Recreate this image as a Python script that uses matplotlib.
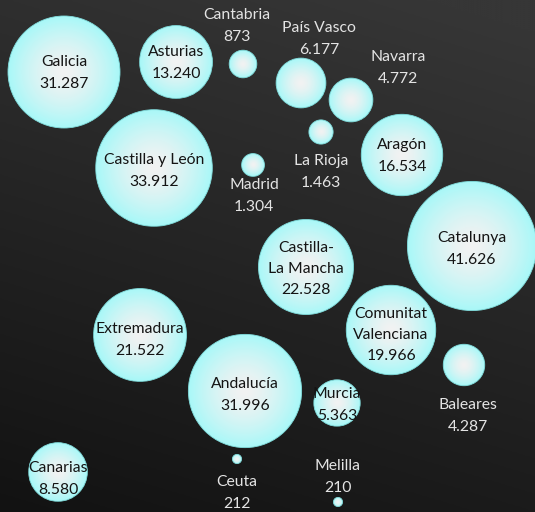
import numpy as np
import matplotlib
matplotlib.use("Agg")
import matplotlib.pyplot as plt
from matplotlib.patches import Circle

plt.rcParams['font.family'] = ['Lato', 'DejaVu Sans']

# ---- data ----
regions = ["Galicia", "Asturias", "Cantabria", "País Vasco", "Navarra", "La Rioja",
           "Aragón", "Castilla y León", "Madrid", "Catalunya", "Castilla-\nLa Mancha",
           "Comunitat\nValenciana", "Baleares", "Murcia", "Andalucía", "Extremadura",
           "Canarias", "Ceuta", "Melilla"]
labels = ["31.287", "13.240", "873", "6.177", "4.772", "1.463", "16.534", "33.912",
          "1.304", "41.626", "22.528", "19.966", "4.287", "5.363", "31.996", "21.522",
          "8.580", "212", "210"]
bubble_size = [31287, 13240, 1900, 6177, 4772, 1463, 16534, 33912, 1304, 41626,
               22528, 19966, 4287, 5363, 31996, 21522, 8580, 212, 210]
x = [64, 176, 243, 301, 351, 321, 402, 154, 253, 472, 306, 391, 464, 337, 245, 140, 58, 237, 338]
y = [72, 62, 64, 83, 100, 132, 155, 168, 165, 246, 267, 330, 365, 403, 391, 335, 472, 459, 502]

# label placement (layout): outside labels and inside labels
outside = {"Cantabria": (237, 26), "País Vasco": (319, 39), "Navarra": (398, 68),
           "La Rioja": (321, 172), "Madrid": (254, 196), "Baleares": (468, 416),
           "Ceuta": (237, 493), "Melilla": (338, 477)}
inside_pos = {"Galicia": (64, 73), "Asturias": (176, 63), "Aragón": (402, 156),
              "Castilla y León": (154, 171), "Catalunya": (472, 249),
              "Castilla-\nLa Mancha": (306, 269), "Comunitat\nValenciana": (391, 335),
              "Murcia": (337, 405), "Andalucía": (245, 395), "Extremadura": (140, 340),
              "Canarias": (58, 479)}

W, H = 535, 512
fig = plt.figure(figsize=(W / 100, H / 100), dpi=100)
ax = fig.add_axes([0, 0, 1, 1])
ax.set_xlim(0, W)
ax.set_ylim(H, 0)
ax.axis('off')

# background gradient
yy, xx = np.mgrid[0:1:256j, 0:1:256j]
t = np.clip(0.8 * yy + 0.25 * (1 - xx) - 0.05, 0, 1)
top = np.array([0x36, 0x36, 0x36]) / 255
bot = np.array([0x12, 0x12, 0x12]) / 255
bg = top[None, None, :] * (1 - t[..., None]) + bot[None, None, :] * t[..., None]
ax.imshow(bg, extent=(0, W, H, 0), origin='upper', zorder=0, aspect='auto')

# bubble gradient image
n = 200
gy, gx = np.mgrid[-1:1:n * 1j, -1:1:n * 1j]
d = np.clip(np.sqrt(gx ** 2 + gy ** 2), 0, 1)
cen = np.array([0xf2, 0xf2, 0xf2]) / 255
edg = np.array([0xa8, 0xf8, 0xf8]) / 255
f = d ** 1.5
grad = cen[None, None, :] * (1 - f[..., None]) + edg[None, None, :] * f[..., None]

k = 56 / np.sqrt(31287)
for name, s, cx, cy in zip(regions, bubble_size, x, y):
    r = k * np.sqrt(s)
    circ = Circle((cx, cy), r, transform=ax.transData, facecolor='none',
                  edgecolor='#80dcdc', linewidth=0.6, zorder=3)
    im = ax.imshow(grad, extent=(cx - r, cx + r, cy + r, cy - r), origin='upper',
                   zorder=2, aspect='auto', interpolation='bilinear')
    im.set_clip_path(circ)
    ax.add_patch(circ)

for name, lab in zip(regions, labels):
    if name in outside:
        px, py = outside[name]
        col = '#e4e4e4'
    else:
        px, py = inside_pos[name]
        col = '#141414'
    ax.text(px, py, f"{name}\n{lab}", ha='center', va='center', color=col,
            fontsize=11.3, linespacing=1.68, zorder=5)

ax.set_xlim(0, W)
ax.set_ylim(H, 0)
fig.savefig("out.png", dpi=100)
